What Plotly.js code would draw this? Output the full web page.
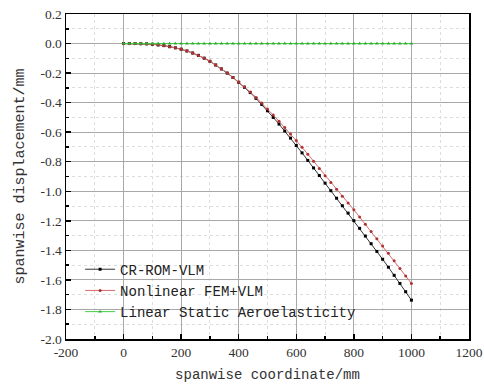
<!DOCTYPE html>
<html>
<head>
<meta charset="utf-8">
<script src="https://cdn.plot.ly/plotly-3.0.1.min.js"></script>
<style>html,body{margin:0;padding:0;background:#fff;}#chart{width:484px;height:385px;}</style>
</head>
<body>
<div id="chart"></div>
<script>
const spanX = [0,20,40,60,80,100,120,140,160,180,200,220,240,260,280,300,320,340,360,380,400,420,440,460,480,500,520,540,560,580,600,620,640,660,680,700,720,740,760,780,800,820,840,860,880,900,920,940,960,980,1000];
const crRomVlm = [0,0,0,-0.001,-0.002,-0.005,-0.009,-0.014,-0.021,-0.029,-0.038,-0.05,-0.064,-0.08,-0.099,-0.12,-0.145,-0.172,-0.2,-0.23,-0.262,-0.296,-0.332,-0.371,-0.412,-0.455,-0.5,-0.545,-0.592,-0.64,-0.69,-0.74,-0.791,-0.842,-0.893,-0.945,-0.996,-1.047,-1.098,-1.148,-1.199,-1.251,-1.303,-1.355,-1.407,-1.46,-1.514,-1.569,-1.624,-1.68,-1.737];
const nonlinearFem = [0,0,0,-0.001,-0.002,-0.005,-0.009,-0.014,-0.021,-0.029,-0.038,-0.05,-0.064,-0.08,-0.099,-0.12,-0.145,-0.171,-0.199,-0.229,-0.26,-0.293,-0.328,-0.365,-0.403,-0.443,-0.484,-0.526,-0.569,-0.612,-0.656,-0.702,-0.749,-0.797,-0.846,-0.895,-0.941,-0.987,-1.033,-1.079,-1.125,-1.174,-1.223,-1.272,-1.321,-1.37,-1.42,-1.471,-1.522,-1.573,-1.624];
const linearStatic = [0,0,0,0,0,0,0,0,0,0,0,0,0,0,0,0,0,0,0,0,0,0,0,0,0,0,0,0,0,0,0,0,0,0,0,0,0,0,0,0,0,0,0,0,0,0,0,0,0,0,0];
const seriesNames = ["CR-ROM-VLM", "Nonlinear FEM+VLM", "Linear Static Aeroelasticity"];
const xTickVals = [-200,0,200,400,600,800,1000,1200];
const xTickText = ["-200","0","200","400","600","800","1000","1200"];
const yTickVals = [0.2,0,-0.2,-0.4,-0.6,-0.8,-1.0,-1.2,-1.4,-1.6,-1.8,-2.0];
const yTickText = ["0.2","0.0","-0.2","-0.4","-0.6","-0.8","-1.0","-1.2","-1.4","-1.6","-1.8","-2.0"];

const FONT = '"Liberation Mono", "DejaVu Sans Mono", monospace';
const TICKFONT = '"Liberation Serif", "DejaVu Serif", serif';

const traces = [
  {x: spanX, y: crRomVlm, name: seriesNames[0], type: 'scatter', mode: 'lines+markers',
   line: {color: '#333333', width: 1}, marker: {color: '#000000', size: 3, symbol: 'square'}},
  {x: spanX, y: nonlinearFem, name: seriesNames[1], type: 'scatter', mode: 'lines+markers',
   line: {color: '#d86a6a', width: 1}, marker: {color: '#b03030', size: 3, symbol: 'circle'}},
  {x: spanX, y: linearStatic, name: seriesNames[2], type: 'scatter', mode: 'lines+markers',
   line: {color: '#44cc44', width: 1}, marker: {color: '#33aa33', size: 3.5, symbol: 'triangle-up'}}
];

const axisCommon = {
  showline: true, linecolor: '#000', linewidth: 1.5, mirror: true,
  ticks: 'inside', ticklen: 5, tickwidth: 1.5, tickcolor: '#000',
  showgrid: true, gridcolor: '#a8a8a8', gridwidth: 1,
  zeroline: false, ticklabeloverflow: 'allow',
  tickfont: {family: TICKFONT, size: 13.5, color: '#333'}
};

const layout = {
  width: 484, height: 385,
  margin: {l: 66, r: 15, t: 14, b: 46},
  paper_bgcolor: '#fff', plot_bgcolor: '#fff',
  showlegend: true,
  legend: {x: 0.035, y: 0.035, xanchor: 'left', yanchor: 'bottom', bgcolor: 'rgba(0,0,0,0)',
           font: {family: FONT, size: 14, color: '#222'}, tracegroupgap: 0, itemwidth: 30},
  xaxis: Object.assign({}, axisCommon, {
    range: [-200.01, 1200.01], tickmode: 'array', tickvals: xTickVals, ticktext: xTickText,
    minor: {dtick: 100, ticks: 'inside', ticklen: 3, tickcolor: '#000', showgrid: true, gridcolor: '#dddddd', griddash: 'dot', gridwidth: 1},
    title: {text: 'spanwise coordinate/mm', font: {family: FONT, size: 14, color: '#333'}, standoff: 10}
  }),
  yaxis: Object.assign({}, axisCommon, {
    range: [-2.0, 0.2], tickmode: 'array', tickvals: yTickVals, ticktext: yTickText,
    minor: {dtick: 0.1, ticks: 'inside', ticklen: 3, tickcolor: '#000', showgrid: true, gridcolor: '#dddddd', griddash: 'dot', gridwidth: 1},
    title: {text: 'spanwise displacement/mm', font: {family: FONT, size: 15, color: '#333'}, standoff: 12}
  })
};

Plotly.newPlot('chart', traces, layout, {displayModeBar: false, staticPlot: true});
</script>
</body>
</html>
